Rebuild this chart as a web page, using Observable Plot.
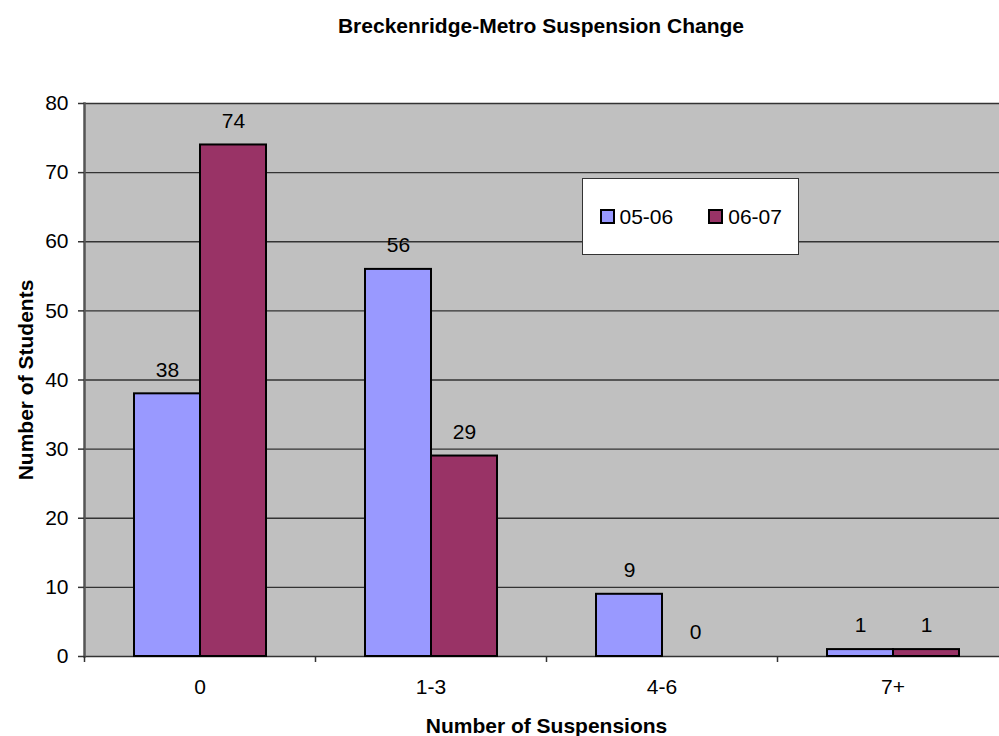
<!DOCTYPE html>
<html>
<head>
<meta charset="utf-8">
<script src="https://cdn.jsdelivr.net/npm/d3@7"></script>
<script src="https://cdn.jsdelivr.net/npm/@observablehq/plot@0.6"></script>
<style>
  html, body { margin: 0; padding: 0; background: #fff; overflow: hidden; }
  body { font-family: "Liberation Sans", Arial, sans-serif; }
  #wrap { position: relative; width: 999px; height: 736px; overflow: hidden; }
  #title { height: 60px; line-height: 52px; font-size: 21px; font-weight: bold; color: #000;
           text-align: center; width: 1008px; padding-left: 74px; box-sizing: border-box; white-space: nowrap; }
  #chart { width: 1008px; height: 676px; }
  #chart svg { max-width: none !important; display: block; }
  #legend { position: absolute; left: 582px; top: 178px; width: 215px; height: 75px;
            background: #fff; border: 1.5px solid #333; display: flex; align-items: center;
            font-size: 21px; color: #000; white-space: nowrap; }
  .item { display: flex; align-items: center; }
  .sw { width: 11px; height: 11px; border: 2px solid #000; margin-right: 5px; }
  svg [aria-label="y-axis label"], svg [aria-label="fx-axis label"] { font-weight: bold; }
</style>
</head>
<body>
<div id="wrap">
  <div id="title"></div>
  <div id="chart"></div>
  <div id="legend"></div>
</div>
<script>
const titleText = "Breckenridge-Metro Suspension Change";
const yLabel = "Number of Students";
const xLabel = "Number of Suspensions";
const categories = ["0", "1-3", "4-6", "7+"];
const series = ["05-06", "06-07"];
const values0506 = [38, 56, 9, 1];
const values0607 = [74, 29, 0, 1];
const colors = ["#9999FF", "#993366"];
const yTicks = [0, 10, 20, 30, 40, 50, 60, 70, 80];

const FONT = '"Liberation Sans", Arial, sans-serif';

const data = categories.flatMap((c, i) => [
  {cat: c, series: series[0], value: values0506[i]},
  {cat: c, series: series[1], value: values0607[i]}
]);

document.getElementById("title").textContent = titleText;

const chart = Plot.plot({
  width: 1008,
  height: 676,
  marginLeft: 84,
  marginRight: 0,
  marginTop: 43,
  marginBottom: 80,
  style: {fontFamily: FONT, fontSize: "21px", color: "#000", background: "transparent", overflow: "visible", maxWidth: "none"},
  fx: {domain: categories, padding: 0},
  x: {domain: series, paddingInner: 0, paddingOuter: 0.742, axis: null},
  y: {domain: [0, 80]},
  color: {domain: series, range: colors},
  marks: [
    Plot.frame({fill: "#C0C0C0", stroke: "#C0C0C0", strokeWidth: 1}),
    Plot.gridY(yTicks, {stroke: "#333", strokeOpacity: 1, strokeWidth: 1.3}),
    Plot.barY(data.filter(d => d.value > 0), {fx: "cat", x: "series", y: "value", fill: "series", stroke: "#000", strokeWidth: 2}),
    Plot.text(data, {fx: "cat", x: "series", y: "value", text: d => String(d.value), dy: -24, fontSize: 21, fill: "#000"}),
    Plot.frame({anchor: "left", stroke: "#555", strokeWidth: 2.5, facetAnchor: "left"}),
    Plot.axisY(yTicks, {tickSize: 6, tickPadding: 10, stroke: "#333", strokeWidth: 1.5, fontSize: 21,
      label: yLabel, labelAnchor: "center", labelOffset: 66, labelArrow: "none"}),
    Plot.axisFx({anchor: "bottom", tickSize: 0, tickPadding: 23, fontSize: 21, label: xLabel,
      labelAnchor: "center", labelOffset: 76, labelArrow: "none"}),
    Plot.axisFx({anchor: "bottom", tickSize: 6, tickFormat: () => "", label: null, dx: -115.5, stroke: "#333", strokeWidth: 1.5})
  ]
});
document.getElementById("chart").appendChild(chart);

const legend = document.getElementById("legend");
series.forEach((s, i) => {
  const item = document.createElement("div");
  item.className = "item";
  item.style.marginLeft = i === 0 ? "16.5px" : "35px";
  const sw = document.createElement("div");
  sw.className = "sw";
  sw.style.background = colors[i];
  const t = document.createElement("span");
  t.textContent = s;
  item.appendChild(sw);
  item.appendChild(t);
  legend.appendChild(item);
});
</script>
</body>
</html>
